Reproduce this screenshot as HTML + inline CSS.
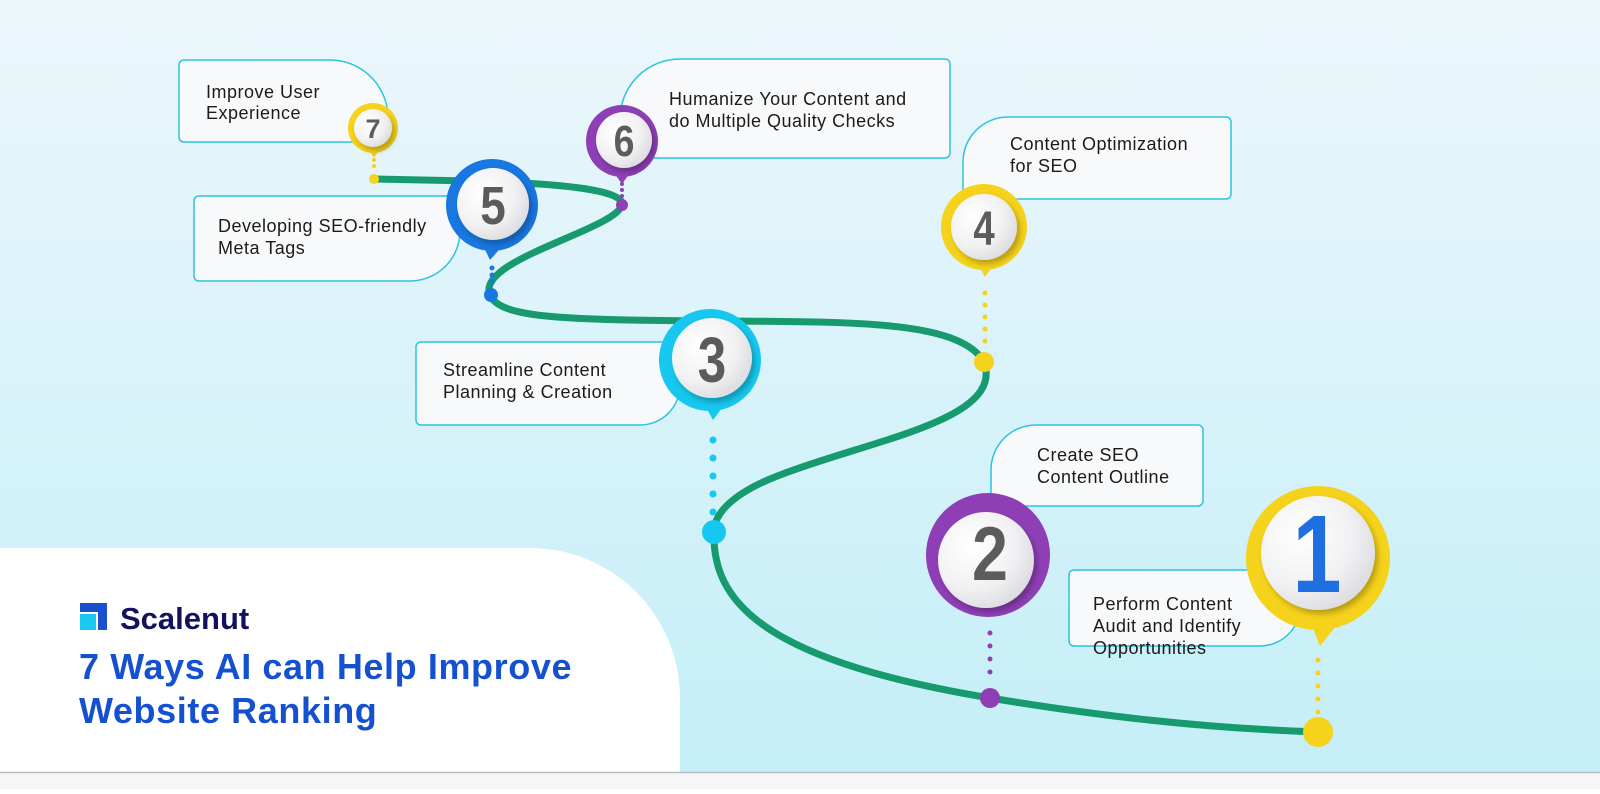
<!DOCTYPE html>
<html><head><meta charset="utf-8"><style>
html,body{margin:0;padding:0}
body{width:1600px;height:789px;overflow:hidden;font-family:"Liberation Sans",sans-serif}
</style></head><body>
<svg width="1600" height="789" viewBox="0 0 1600 789" xmlns="http://www.w3.org/2000/svg">
<defs>
<linearGradient id="bg" x1="0" y1="0" x2="0" y2="1">
<stop offset="0" stop-color="#ecf7fb"/><stop offset="1" stop-color="#c3eef8"/>
</linearGradient>
<radialGradient id="disc" cx="0.35" cy="0.35" r="0.75">
<stop offset="0" stop-color="#ffffff"/><stop offset="0.6" stop-color="#f1f1f3"/><stop offset="1" stop-color="#d9d9de"/>
</radialGradient>
<filter id="sh" x="-30%" y="-30%" width="160%" height="160%"><feDropShadow dx="3" dy="4" stdDeviation="3" flood-color="#000" flood-opacity="0.25"/></filter>
</defs>
<rect width="1600" height="789" fill="url(#bg)"/>
<path d="M0 548 H530 A150 150 0 0 1 680 698 V772 H0 Z" fill="#fff"/>
<rect x="0" y="772" width="1600" height="17" fill="#f4f6f7"/>
<line x1="0" y1="772.5" x2="1600" y2="772.5" stroke="#b9bcbf" stroke-width="1.5"/>

<g fill="#f8f9fa" stroke="#2cc3e0" stroke-width="1.5">
<path d="M184 60 H330 A58 58 0 0 1 388 118 V142 H184 A5 5 0 0 1 179 137 V65 A5 5 0 0 1 184 60 Z"/>
<path d="M680 59 H945 A5 5 0 0 1 950 64 V153 A5 5 0 0 1 945 158 H620 V119 A60 60 0 0 1 680 59 Z"/>
<path d="M199 196 H460 V231 A50 50 0 0 1 410 281 H199 A5 5 0 0 1 194 276 V201 A5 5 0 0 1 199 196 Z"/>
<path d="M1008 117 H1226 A5 5 0 0 1 1231 122 V194 A5 5 0 0 1 1226 199 H963 V162 A45 45 0 0 1 1008 117 Z"/>
<path d="M421 342 H680 V385 A40 40 0 0 1 640 425 H421 A5 5 0 0 1 416 420 V347 A5 5 0 0 1 421 342 Z"/>
<path d="M1036 425 H1198 A5 5 0 0 1 1203 430 V501 A5 5 0 0 1 1198 506 H991 V470 A45 45 0 0 1 1036 425 Z"/>
<path d="M1074 570 H1300 V606 A40 40 0 0 1 1260 646 H1074 A5 5 0 0 1 1069 641 V575 A5 5 0 0 1 1074 570 Z"/>
</g>
<g font-family="'Liberation Sans',sans-serif" font-size="18" letter-spacing="0.5" fill="#1b1b1b">
<text x="206" y="98">Improve User</text><text x="206" y="119">Experience</text>
<text x="669" y="105">Humanize Your Content and</text><text x="669" y="127">do Multiple Quality Checks</text>
<text x="218" y="232">Developing SEO-friendly</text><text x="218" y="254">Meta Tags</text>
<text x="1010" y="150">Content Optimization</text><text x="1010" y="172">for SEO</text>
<text x="443" y="376">Streamline Content</text><text x="443" y="398">Planning &amp; Creation</text>
<text x="1037" y="461">Create SEO</text><text x="1037" y="483">Content Outline</text>
<text x="1093" y="610">Perform Content</text><text x="1093" y="632">Audit and Identify</text><text x="1093" y="654">Opportunities</text>
</g>

<path d="M374 179 L470 181 C560 183 625 190 622 205 C615 230 475 260 490 295 C500 318 560 320 720 321 C850 322 960 320 984 362 C1005 420 870 440 780 475 C740 490 714 510 714 532 C712 600 760 660 990 698 C1100 716 1200 728 1318 732" fill="none" stroke="#169a6e" stroke-width="7" stroke-linecap="round"/>

<g stroke-linecap="round" fill="none">
<line x1="374" y1="160" x2="374" y2="172" stroke="#f5d21b" stroke-width="4" stroke-dasharray="0 6"/>
<line x1="622" y1="184" x2="622" y2="198" stroke="#8e3fb5" stroke-width="4" stroke-dasharray="0 6"/>
<line x1="492" y1="268" x2="492" y2="285" stroke="#1877e0" stroke-width="5" stroke-dasharray="0 7"/>
<line x1="985" y1="293" x2="985" y2="350" stroke="#f5d21b" stroke-width="5" stroke-dasharray="0 12"/>
<line x1="713" y1="440" x2="713" y2="515" stroke="#16c8ef" stroke-width="7" stroke-dasharray="0 18"/>
<line x1="990" y1="633" x2="990" y2="685" stroke="#8e3fb5" stroke-width="5" stroke-dasharray="0 13"/>
<line x1="1318" y1="660" x2="1318" y2="718" stroke="#f5d21b" stroke-width="5" stroke-dasharray="0 13"/>
</g>
<g>
<circle cx="374" cy="179" r="5" fill="#f5d21b"/>
<circle cx="622" cy="205" r="6" fill="#8e3fb5"/>
<circle cx="491" cy="295" r="7" fill="#1877e0"/>
<circle cx="984" cy="362" r="10" fill="#f5d21b"/>
<circle cx="714" cy="532" r="12" fill="#16c8ef"/>
<circle cx="990" cy="698" r="10" fill="#8e3fb5"/>
<circle cx="1318" cy="732" r="15" fill="#f5d21b"/>
</g>

<g font-family="'Liberation Sans',sans-serif" font-weight="bold" text-anchor="middle">
<path d="M368 148 L374 158 L380 148 Z" fill="#f5d21b"/>
<circle cx="373" cy="128" r="25" fill="#f5d21b"/>
<circle cx="373" cy="128" r="19" fill="url(#disc)" filter="url(#sh)"/>
<text x="373" y="138" font-size="27" fill="#5c5c5c">7</text>
<path d="M612 170 L622 184 L632 170 Z" fill="#8e3fb5"/>
<circle cx="622" cy="141" r="36" fill="#8e3fb5"/>
<circle cx="624" cy="140" r="28" fill="url(#disc)" filter="url(#sh)"/>
<text x="624" y="156" font-size="44" fill="#5c5c5c" transform="translate(624 0) scale(0.85 1) translate(-624 0)">6</text>
<path d="M482 243 L490 260 L505 243 Z" fill="#1877e0"/>
<circle cx="492" cy="205" r="46" fill="#1877e0"/>
<circle cx="493" cy="204" r="36" fill="url(#disc)" filter="url(#sh)"/>
<text x="493" y="224" font-size="54" fill="#5c5c5c" transform="translate(493 0) scale(0.85 1) translate(-493 0)">5</text>
<path d="M976 260 L985 277 L997 260 Z" fill="#f5d21b"/>
<circle cx="984" cy="227" r="43" fill="#f5d21b"/>
<circle cx="984" cy="227" r="33" fill="url(#disc)" filter="url(#sh)"/>
<text x="984" y="245" font-size="48" fill="#5c5c5c" transform="translate(984 0) scale(0.8 1) translate(-984 0)">4</text>
<path d="M702 400 L713 420 L728 400 Z" fill="#16c8ef"/>
<circle cx="710" cy="360" r="51" fill="#16c8ef"/>
<circle cx="712" cy="358" r="40" fill="url(#disc)" filter="url(#sh)"/>
<text x="712" y="382" font-size="64" fill="#5c5c5c" transform="translate(712 0) scale(0.8 1) translate(-712 0)">3</text>
<circle cx="988" cy="555" r="62" fill="#8e3fb5"/>
<circle cx="986" cy="560" r="48" fill="url(#disc)" filter="url(#sh)"/>
<text x="990" y="580" font-size="76" fill="#5c5c5c" transform="translate(990 0) scale(0.85 1) translate(-990 0)">2</text>
<path d="M1308 615 L1320 646 L1345 615 Z" fill="#f5d21b"/>
<circle cx="1318" cy="558" r="72" fill="#f5d21b"/>
<circle cx="1318" cy="553" r="57" fill="url(#disc)" filter="url(#sh)"/>
<text x="1317" y="592" font-size="110" fill="#1e6fe0" transform="translate(1317 0) scale(0.8 1) translate(-1317 0)">1</text>
</g>

<rect x="80" y="603" width="27" height="27" fill="#1a4fd0"/>
<rect x="80" y="614" width="16" height="16" fill="#19c9f2"/>
<rect x="80" y="612" width="18" height="2" fill="#fff"/>
<rect x="96" y="612" width="2" height="18" fill="#fff"/>
<text x="120" y="629" font-family="'Liberation Sans',sans-serif" font-size="31" font-weight="bold" fill="#12135c">Scalenut</text>
<text x="79" y="679" font-family="'Liberation Sans',sans-serif" font-size="36" font-weight="bold" letter-spacing="0.6" fill="#1451d1">7 Ways AI can Help Improve</text>
<text x="79" y="723" font-family="'Liberation Sans',sans-serif" font-size="36" font-weight="bold" letter-spacing="0.6" fill="#1451d1">Website Ranking</text>
</svg>
</body></html>
